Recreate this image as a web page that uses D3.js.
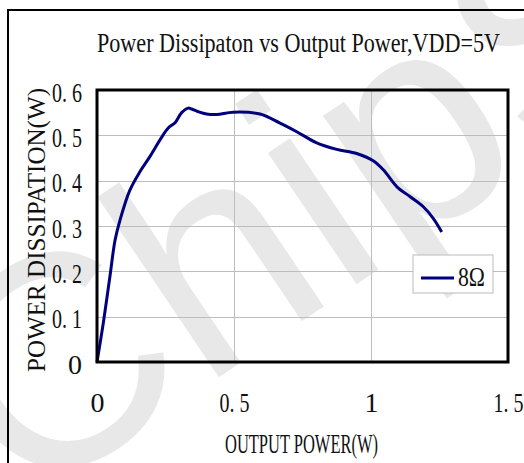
<!DOCTYPE html>
<html>
<head>
<meta charset="utf-8">
<script src="https://cdn.jsdelivr.net/npm/d3@7"></script>
<style>
  body { margin: 0; background: #fff; }
  text { font-family: "Liberation Serif", "DejaVu Serif", serif; fill: #111; }
  .ticks .domain { display: none; }
  .ticks line { display: none; }
</style>
</head>
<body>
<div class="diagram"></div>
<script>
const outputPower = [0, 0.023, 0.047, 0.066, 0.084, 0.12, 0.157, 0.193, 0.23, 0.26, 0.285, 0.309, 0.333, 0.345,
  0.37, 0.40, 0.437, 0.497, 0.595, 0.668, 0.729, 0.80, 0.875, 0.948, 1.008, 1.045, 1.094, 1.142, 1.19, 1.227, 1.258];
const dissipation = [0, 0.086, 0.188, 0.269, 0.313, 0.379, 0.42, 0.453, 0.49, 0.516, 0.528, 0.55, 0.56, 0.558,
  0.552, 0.547, 0.546, 0.551, 0.547, 0.527, 0.508, 0.484, 0.469, 0.46, 0.444, 0.424, 0.387, 0.365, 0.343, 0.317, 0.287];
const xTicks = [0, 0.5, 1, 1.5];
const yTicks = [0, 0.1, 0.2, 0.3, 0.4, 0.5, 0.6];
const seriesName = "8\u03A9";
const title = "Power Dissipaton vs Output Power,VDD=5V";
const xTitle = "OUTPUT POWER(W)";
const yTitle = "POWER DISSIPATION(W)";

const W = 524, H = 463,
plotL = 97, plotT = 90, plotR = 508, plotB = 362;

const svg = d3.select(".diagram")
.append("svg")
.attr("width", W)
.attr("height", H);

// faint watermark
svg.append("text")
.attr("transform", "translate(22,510) rotate(-34)")
.style("font-family", "'Liberation Sans', Arial, sans-serif")
.style("font-size", "300px")
.style("fill", "#e8e8e8")
.text("ChipSea");

svg.append("rect")
.attr("x", 8)
.attr("y", 10)
.attr("width", 560)
.attr("height", 500)
.attr("fill", "none")
.attr("stroke", "#000")
.attr("stroke-width", 2);

const xScale = d3.scaleLinear()
.domain([0, 1.5])
.range([plotL, plotR]);
const yScale = d3.scaleLinear()
.domain([0, 0.6])
.range([plotB, plotT]);

svg.append("g")
.selectAll("line")
.data(xTicks)
.enter()
.append("line")
.attr("x1", d => Math.round(xScale(d)) + 0.5)
.attr("x2", d => Math.round(xScale(d)) + 0.5)
.attr("y1", plotT)
.attr("y2", plotB)
.attr("stroke", "#bdbdbd")
.attr("stroke-width", 1);
svg.append("g")
.selectAll("line")
.data(yTicks)
.enter()
.append("line")
.attr("x1", plotL)
.attr("x2", plotR)
.attr("y1", d => Math.round(yScale(d)) + 0.5)
.attr("y2", d => Math.round(yScale(d)) + 0.5)
.attr("stroke", "#bdbdbd")
.attr("stroke-width", 1);

const fmt = d => d === 0 ? "0" : d === 1 ? "1" : d.toFixed(1).replace(".", ". ");

const yAxis = svg.append("g")
.attr("class", "ticks")
.attr("transform", "translate(" + (plotL - 15) + ",0)")
.call(d3.axisLeft(yScale).tickValues(yTicks).tickSize(0).tickPadding(0).tickFormat(fmt));
yAxis.selectAll("text")
.style("font-size", "28px")
.attr("dy", "0.4em")
.attr("textLength", d => d === 0 ? null : 30)
.attr("lengthAdjust", "spacingAndGlyphs");

const xAxis = svg.append("g")
.attr("class", "ticks")
.attr("transform", "translate(0," + plotB + ")")
.call(d3.axisBottom(xScale).tickValues(xTicks).tickSize(0).tickPadding(0).tickFormat(fmt));
xAxis.selectAll("text")
.style("font-size", "28px")
.attr("y", 50)
.attr("dy", 0)
.attr("textLength", d => d === 0 || d === 1 ? null : 30)
.attr("lengthAdjust", "spacingAndGlyphs");

const line = d3.line()
.x((d, i) => xScale(outputPower[i]))
.y(d => yScale(d))
.curve(d3.curveCatmullRom.alpha(0.5));

svg.append("path")
.datum(dissipation)
.attr("d", line)
.attr("fill", "none")
.attr("stroke", "#00007f")
.attr("stroke-width", 3)
.attr("stroke-linejoin", "round");

svg.append("rect")
.attr("x", plotL)
.attr("y", plotT)
.attr("width", plotR - plotL)
.attr("height", plotB - plotT)
.attr("fill", "none")
.attr("stroke", "#000")
.attr("stroke-width", 3);

const legend = svg.append("g")
.attr("transform", "translate(413,255)");
legend.append("rect")
.attr("width", 80)
.attr("height", 38)
.attr("fill", "#fff")
.attr("stroke", "#bbb")
.attr("stroke-width", 1);
legend.append("line")
.attr("x1", 8)
.attr("x2", 41)
.attr("y1", 23)
.attr("y2", 23)
.attr("stroke", "#00007f")
.attr("stroke-width", 3);
legend.append("text")
.attr("x", 45)
.attr("y", 31)
.style("font-size", "27px")
.attr("textLength", 27)
.attr("lengthAdjust", "spacingAndGlyphs")
.text(seriesName);

svg.append("text")
.attr("x", 97)
.attr("y", 52)
.style("font-size", "27px")
.attr("textLength", 403)
.attr("lengthAdjust", "spacingAndGlyphs")
.text(title);

svg.append("text")
.attr("x", 225)
.attr("y", 453)
.style("font-size", "28px")
.attr("textLength", 153)
.attr("lengthAdjust", "spacingAndGlyphs")
.text(xTitle);

svg.append("text")
.attr("transform", "translate(45,372) rotate(-90)")
.style("font-size", "26px")
.attr("textLength", 284)
.attr("lengthAdjust", "spacingAndGlyphs")
.text(yTitle);
</script>
</body>
</html>
